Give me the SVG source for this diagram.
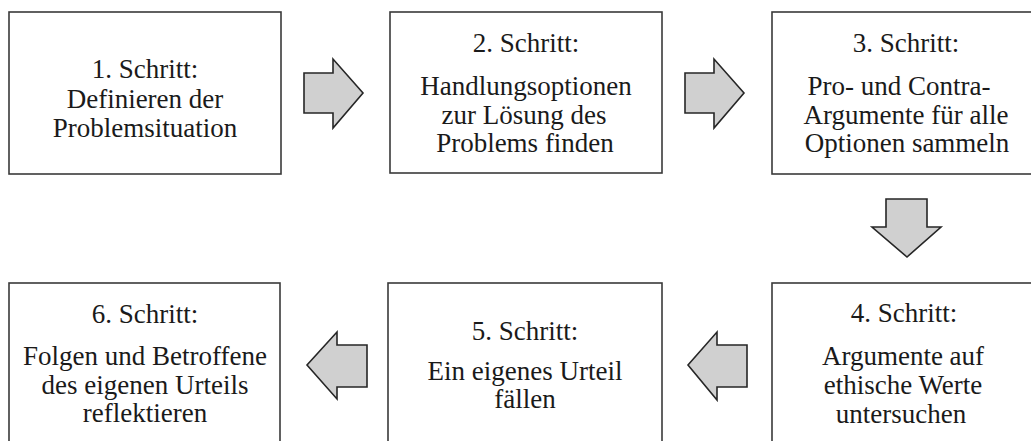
<svg xmlns="http://www.w3.org/2000/svg" width="1031" height="441" viewBox="0 0 1031 441">
<style>
.box{fill:#fff;stroke:#3a3a3a;stroke-width:1.6}
.arr{fill:#d0d0d0;stroke:#262626;stroke-width:1.6;stroke-linejoin:miter}
text{font-family:"Liberation Serif","Times New Roman",serif;font-size:27px;fill:#1a1a1a;text-anchor:middle}
</style>
<rect width="1031" height="441" fill="#fff"/>
<g id="step1">
<rect class="box" x="9" y="12" width="272" height="162"/>
<text x="145" y="78">1. Schritt:</text>
<text x="145" y="108">Definieren der</text>
<text x="145" y="137">Problemsituation</text>
</g>
<g id="step2">
<rect class="box" x="390" y="12" width="272" height="161"/>
<text x="526" y="52">2. Schritt:</text>
<text x="526" y="95">Handlungsoptionen</text>
<text x="524" y="124">zur Lösung des</text>
<text x="525" y="152">Problems finden</text>
</g>
<g id="step3">
<rect class="box" x="772" y="12" width="272" height="162"/>
<text x="906" y="52">3. Schritt:</text>
<text x="899" y="95">Pro- und Contra-</text>
<text x="906" y="124">Argumente für alle</text>
<text x="907" y="152">Optionen sammeln</text>
</g>
<g id="step4">
<rect class="box" x="772" y="283" width="272" height="170"/>
<text x="904" y="322">4. Schritt:</text>
<text x="903" y="365">Argumente auf</text>
<text x="903" y="394">ethische Werte</text>
<text x="901" y="423">untersuchen</text>
</g>
<g id="step5">
<rect class="box" x="388" y="283" width="274" height="170"/>
<text x="525" y="340">5. Schritt:</text>
<text x="525" y="380">Ein eigenes Urteil</text>
<text x="525" y="408">fällen</text>
</g>
<g id="step6">
<rect class="box" x="9" y="283" width="271" height="170"/>
<text x="145" y="323">6. Schritt:</text>
<text x="145" y="365">Folgen und Betroffene</text>
<text x="145" y="394">des eigenen Urteils</text>
<text x="145" y="422">reflektieren</text>
</g>
<g id="connectors">
<polygon class="arr" points="304,73 333,73 333,59 363,93 333,128 333,113 304,113"/>
<polygon class="arr" points="685,73 714,73 714,59 744,93 714,128 714,113 685,113"/>
<polygon class="arr" points="886,199 927,199 927,227 941,227 907,257 872,227 886,227"/>
<polygon class="arr" points="747,345 717,345 717,332 688,365 717,400 717,387 747,387"/>
<polygon class="arr" points="367,345 337,345 337,332 307,365 337,399 337,387 367,387"/>
</g>
</svg>
